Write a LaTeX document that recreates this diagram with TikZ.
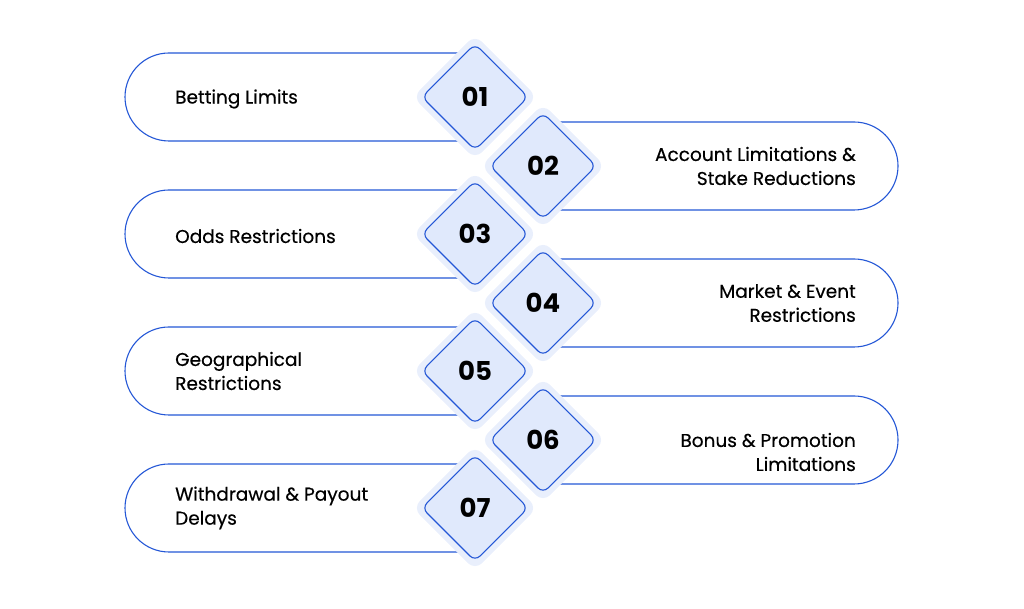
\documentclass[tikz,border=0pt]{standalone}
\usepackage{fontspec}
\setmainfont{Poppins}
\definecolor{bl}{HTML}{2457D6}
\definecolor{halo}{HTML}{E9EFFC}
\definecolor{dfill}{HTML}{E0E9FC}
\begin{document}
\begin{tikzpicture}[x=1pt,y=1pt,
  pill/.style={draw=bl,line width=1.1pt},
  halobox/.style={fill=halo,rotate=45,minimum size=88pt,rounded corners=10pt,inner sep=0pt},
  dbox/.style={draw=bl,fill=dfill,line width=1.1pt,rotate=45,minimum size=75pt,rounded corners=7pt,inner sep=0pt},
  num/.style={font=\fontsize{26}{26}\selectfont\bfseries},
  ltxt/.style={anchor=west,align=left,inner sep=0pt,font=\fontsize{18.5}{24}\selectfont\addfontfeatures{FakeBold=0.4}},
  rtxt/.style={anchor=east,align=right,inner sep=0pt,font=\fontsize{18.5}{24}\selectfont\addfontfeatures{FakeBold=0.4}}]
\useasboundingbox (0,0) rectangle (1024,609);
\foreach \Y in {512,375,238,101}{
  \draw[pill] (470,\Y+44) -- (169,\Y+44) arc(90:270:44) -- (470,\Y-44);}
\foreach \Y in {443,306,169}{
  \draw[pill] (540,\Y+44) -- (854,\Y+44) arc(90:-90:44) -- (540,\Y-44);}
\foreach \n/\x/\Y in {01/475/512,02/543/443,03/475/375,04/543/306,05/475/238,06/543/169,07/475/101}{
  \node[halobox] (h\n) at (\x,\Y) {};
  \node[dbox] (d\n) at (\x,\Y) {};
  \node[num] (n\n) at (\x,\Y) {\n};}
\node[ltxt] (t1) at (175,510) {Betting Limits};
\node[ltxt] (t3) at (175,373) {Odds Restrictions};
\node[ltxt] (t5) at (175,238) {Geographical\\Restrictions};
\node[ltxt] (t7) at (175,101) {Withdrawal \& Payout\\Delays};
\node[rtxt] (t2) at (856,443) {Account Limitations \&\\Stake Reductions};
\node[rtxt] (t4) at (856,306) {Market \& Event\\Restrictions};
\node[rtxt] (t6) at (856,157) {Bonus \& Promotion\\Limitations};
\end{tikzpicture}
\end{document}
